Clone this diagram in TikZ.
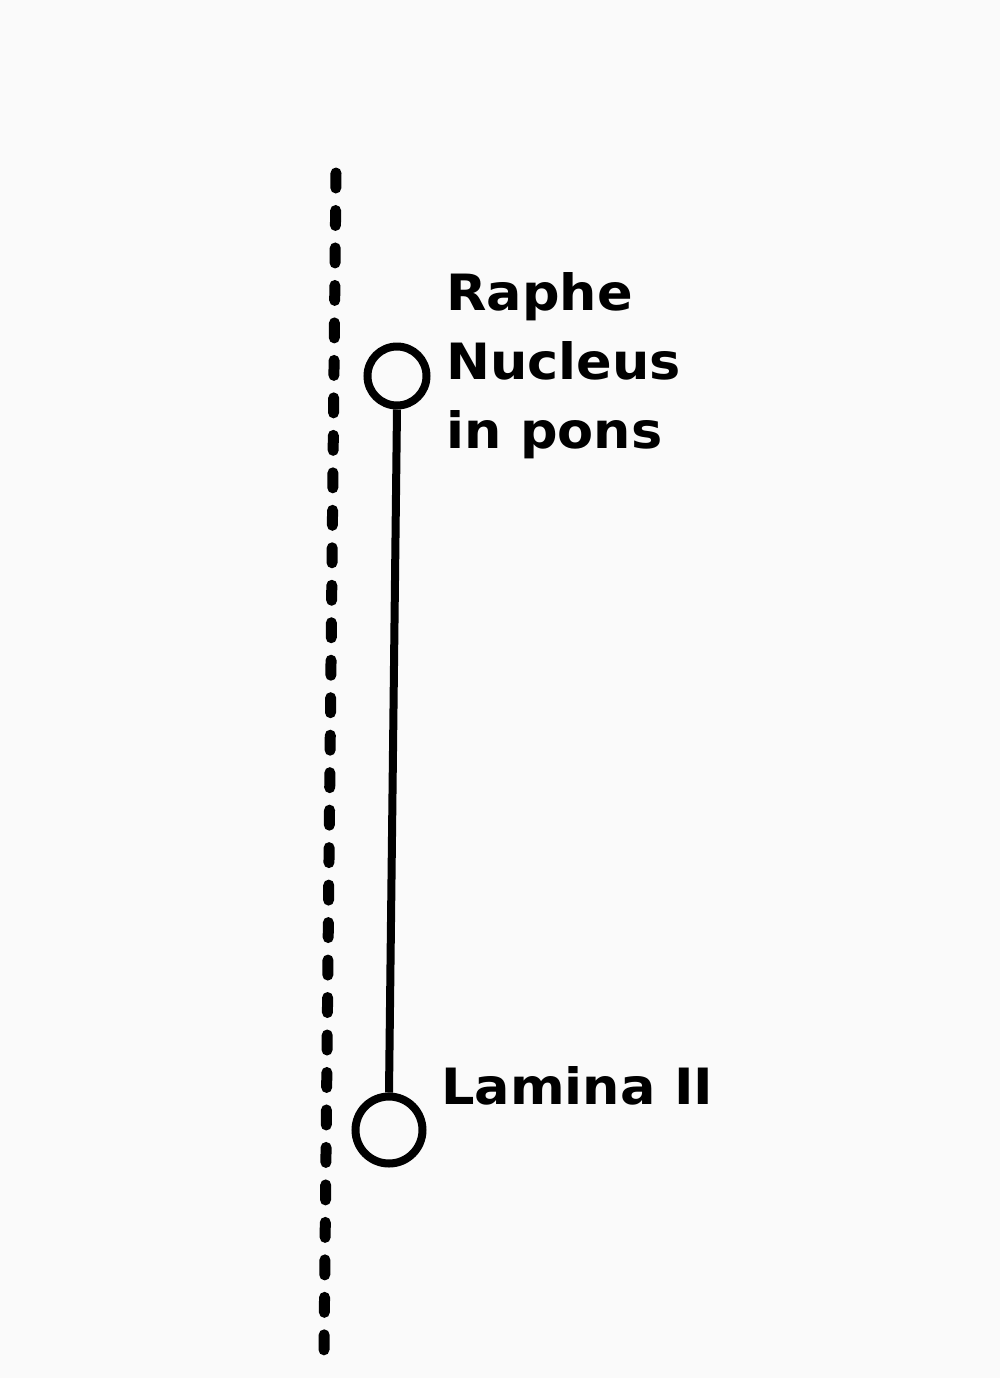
\documentclass[tikz,border=0pt]{standalone}
\usepackage{fontspec}
\setmainfont{DejaVu Sans}
\newfontfamily\lblfont[FakeStretch=1.05]{DejaVu Sans Bold}
\definecolor{bg}{RGB}{250,250,250}
\begin{document}
\begin{tikzpicture}[x=0.5pt,y=-0.5pt,
  neuron/.style={circle,draw=black,line width=4pt,inner sep=0pt},
  lbl/.style={font=\lblfont\fontsize{25}{34.5}\selectfont,text=black,inner sep=0pt,align=left},
  midline/.style={line width=5.5pt,line cap=round,dash pattern=on 7.5pt off 11.24pt},
  axon/.style={line width=4pt}]
\fill[bg] (0,0) rectangle (1000,1378);
\useasboundingbox (0,0) rectangle (1000,1378);
\coordinate (mtop) at (336,173);
\coordinate (mbot) at (324,1350);
\draw[midline] (mtop) -- (mbot);
\node[neuron,minimum size=29.5pt] (raphe) at (397,376) {};
\node[neuron,minimum size=33.5pt] (lamina) at (389,1130) {};
\draw[axon] (raphe.south) -- (lamina.north);
\node[lbl,anchor=base west] (rlabel) at (446,448) {Raphe\\Nucleus\\in pons};
\node[lbl,anchor=base west] (llabel) at (441,1104) {Lamina II};
\end{tikzpicture}
\end{document}
